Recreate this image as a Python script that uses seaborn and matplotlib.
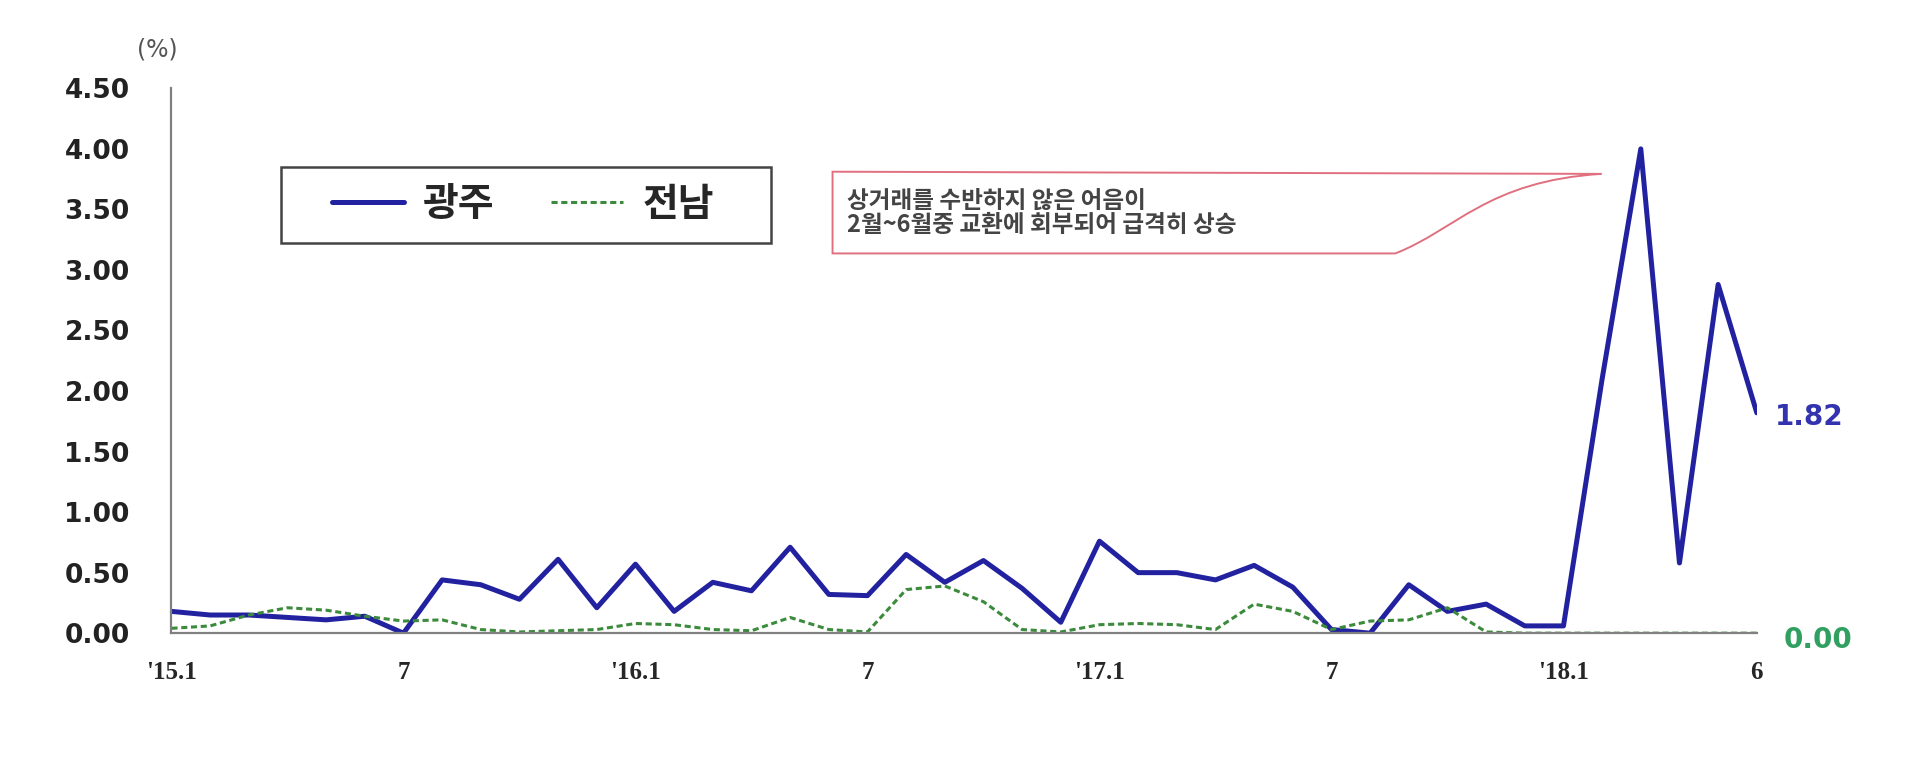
import matplotlib

matplotlib.use("Agg")
import matplotlib.pyplot as plt
import seaborn as sns
import pandas as pd
from matplotlib.patches import PathPatch, Rectangle
from matplotlib.path import Path

# monthly values, '15.1 .. '18.6 (%)
gwangju = [0.18, 0.15, 0.15, 0.13, 0.11, 0.14, 0.00, 0.44, 0.40, 0.28,
           0.61, 0.21, 0.57, 0.18, 0.42, 0.35, 0.71, 0.32, 0.31, 0.65,
           0.42, 0.60, 0.37, 0.09, 0.76, 0.50, 0.50, 0.44, 0.56, 0.38,
           0.03, 0.00, 0.40, 0.18, 0.24, 0.06, 0.06, 2.10, 4.00, 0.58,
           2.88, 1.82]
jeonnam = [0.04, 0.06, 0.15, 0.21, 0.19, 0.14, 0.10, 0.11, 0.03, 0.01,
           0.02, 0.03, 0.08, 0.07, 0.03, 0.02, 0.13, 0.03, 0.01, 0.36,
           0.39, 0.26, 0.03, 0.01, 0.07, 0.08, 0.07, 0.03, 0.24, 0.18,
           0.03, 0.10, 0.11, 0.21, 0.01, 0.00, 0.00, 0.00, 0.00, 0.00,
           0.00, 0.00]
tick_labels = {0: "'15.1", 6: "7", 12: "'16.1", 18: "7", 24: "'17.1",
               30: "7", 36: "'18.1", 41: "6"}
y_ticks = [0.0, 0.5, 1.0, 1.5, 2.0, 2.5, 3.0, 3.5, 4.0, 4.5]
note = "상거래를 수반하지 않은 어음이\n2월~6월중 교환에 회부되어 급격히 상승"

BLUE = "#2222a0"
GREEN = "#3c8a3c"
KR = ["Noto Sans CJK KR", "DejaVu Sans"]

df = pd.DataFrame({"month": range(len(gwangju)), "광주": gwangju, "전남": jeonnam})

sns.set_style("white")
plt.rcParams["font.family"] = ["DejaVu Sans", "Noto Sans CJK KR"]

fig, ax = plt.subplots(figsize=(19.2, 7.75), dpi=100)
fig.subplots_adjust(left=0.0893, right=0.915, bottom=0.183, top=0.886)

sns.lineplot(data=df, x="month", y="광주", ax=ax, color=BLUE, linewidth=3.6,
             label="광주", solid_joinstyle="round")
sns.lineplot(data=df, x="month", y="전남", ax=ax, color=GREEN, linewidth=2.2,
             linestyle=(0, (2, 1.2)), label="전남")

ax.set_xlim(0, len(gwangju) - 1)
ax.set_ylim(0, 4.5)
ax.set_xlabel("")
ax.set_ylabel("")

ax.set_xticks(range(len(gwangju)))
ax.set_xticklabels([tick_labels.get(i, "") for i in range(len(gwangju))],
                   fontfamily="Liberation Serif", fontweight="bold", fontsize=18)
ax.set_yticks(y_ticks)
ax.set_yticklabels([f"{v:.2f}" for v in y_ticks], fontweight="bold", fontsize=19,
                   color="#222222")
ax.tick_params(axis="x", direction="in", length=6, width=1.2, color="#707070", pad=20)
ax.tick_params(axis="y", direction="in", length=6, width=1.2, color="#707070", pad=30)

for side in ["top", "right"]:
    ax.spines[side].set_visible(False)
for side in ["left", "bottom"]:
    ax.spines[side].set_color("#808080")
    ax.spines[side].set_linewidth(1.6)

ax.text(-0.009, 1.072, "(%)", transform=ax.transAxes, ha="center", va="center",
        fontsize=17, color="#555555")

# legend: frame drawn separately so the padding can match
ax.add_patch(Rectangle((0.069, 0.717), 0.309, 0.139, transform=ax.transAxes,
                       facecolor="white", edgecolor="#444444", linewidth=1.8,
                       zorder=3))
leg = ax.legend(loc="center left", bbox_to_anchor=(0.101, 0.787), ncol=2,
                prop={"family": KR, "weight": "bold", "size": 28},
                frameon=False, handlelength=1.85, columnspacing=1.45,
                borderpad=0, handletextpad=0.5, borderaxespad=0)
leg.set_zorder(4)

# callout
verts = [(0.417, 0.847), (0.902, 0.843), (0.83, 0.83), (0.81, 0.74),
         (0.772, 0.697), (0.417, 0.697), (0.417, 0.847)]
codes = [Path.MOVETO, Path.LINETO, Path.CURVE4, Path.CURVE4, Path.CURVE4,
         Path.LINETO, Path.CLOSEPOLY]
ax.add_patch(PathPatch(Path(verts, codes), transform=ax.transAxes,
                       facecolor="white", edgecolor="#e07080", linewidth=1.4,
                       zorder=1))
ax.text(0.426, 0.772, note, transform=ax.transAxes, ha="left", va="center",
        fontsize=17, fontfamily=KR, fontweight="bold", color="#444444",
        linespacing=1.0, zorder=2)

# end labels
last = len(gwangju) - 1
ax.annotate(f"{gwangju[-1]:.2f}", (last, gwangju[-1]), xytext=(13, -3),
            textcoords="offset points", ha="left", va="center",
            fontsize=20, fontweight="bold", color="#3333b0", annotation_clip=False)
ax.annotate(f"{jeonnam[-1]:.2f}", (last, jeonnam[-1]), xytext=(19, -5),
            textcoords="offset points", ha="left", va="center",
            fontsize=20, fontweight="bold", color="#30a060", annotation_clip=False)

plt.savefig("out.png")
plt.close()
